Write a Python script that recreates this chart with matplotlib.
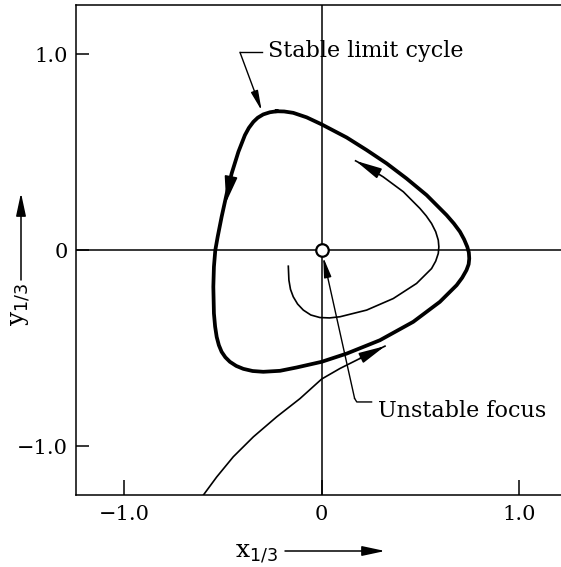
import matplotlib
matplotlib.use("Agg")
import matplotlib.pyplot as plt

plt.rcParams['font.family'] = ['DejaVu Serif']
plt.rcParams['mathtext.fontset'] = 'dejavusans'

# stable limit cycle (closed loop, traversed counter-clockwise)
cycle_x = [-0.228, -0.262, -0.296, -0.324, -0.346, -0.369, -0.389, -0.422, -0.456, -0.481,
           -0.507, -0.527, -0.539, -0.546, -0.549, -0.546, -0.540, -0.532, -0.521, -0.507,
           -0.488, -0.465, -0.433, -0.397, -0.350, -0.296, -0.211, -0.127, 0.0, 0.127,
           0.295, 0.464, 0.599, 0.684, 0.712, 0.734, 0.745, 0.748, 0.746, 0.738,
           0.722, 0.701, 0.670, 0.633, 0.532, 0.430, 0.329, 0.228, 0.127, 0.0,
           -0.076, -0.144, -0.190, -0.228]
cycle_y = [0.709, 0.704, 0.693, 0.676, 0.655, 0.624, 0.587, 0.502, 0.392, 0.289,
           0.170, 0.068, 0.0, -0.085, -0.187, -0.323, -0.390, -0.443, -0.485, -0.519,
           -0.547, -0.570, -0.591, -0.606, -0.617, -0.621, -0.616, -0.599, -0.570, -0.528,
           -0.460, -0.366, -0.264, -0.179, -0.141, -0.102, -0.072, -0.043, -0.012, 0.017,
           0.055, 0.094, 0.136, 0.179, 0.281, 0.366, 0.443, 0.511, 0.575, 0.642,
           0.678, 0.701, 0.708, 0.709]

# trajectory leaving the unstable focus
inner_x = [-0.169, -0.166, -0.158, -0.144, -0.122, -0.093, -0.055, -0.009, 0.040, 0.093,
           0.228, 0.363, 0.481, 0.557, 0.578, 0.591, 0.594, 0.591, 0.578, 0.557,
           0.530, 0.498, 0.414, 0.312, 0.228]
inner_y = [-0.082, -0.153, -0.200, -0.238, -0.275, -0.306, -0.331, -0.344, -0.346, -0.340,
           -0.306, -0.247, -0.170, -0.094, -0.056, -0.017, 0.017, 0.051, 0.094, 0.136,
           0.175, 0.213, 0.298, 0.374, 0.426]
inner_tip = (0.172, 0.456)

# trajectory approaching from outside
outer_x = [-0.600, -0.532, -0.448, -0.346, -0.228, -0.110, 0.0, 0.093, 0.194]
outer_y = [-1.251, -1.158, -1.055, -0.953, -0.851, -0.758, -0.658, -0.604, -0.553]
outer_tip = (0.321, -0.490)

# direction arrow on the limit cycle
cycle_arrow_from = (-0.456, 0.392)
cycle_arrow_tip = (-0.484, 0.245)

tick_vals = [-1.0, 0.0, 1.0]
tick_text = ['\u22121.0', '0', '1.0']

fig = plt.figure(figsize=(5.61, 5.67), dpi=100)
ax = fig.add_axes([76 / 561, 72 / 567, 485 / 561, 489.7 / 567])
ax.set_xlim(-1.245, 1.213)
ax.set_ylim(-1.25, 1.25)

ax.spines['right'].set_visible(False)
for s in ['top', 'left', 'bottom']:
    ax.spines[s].set_linewidth(1.1)

ax.axhline(0, color='k', lw=1.1, zorder=1)
ax.axvline(0, color='k', lw=1.1, zorder=1)

ax.set_xticks(tick_vals)
ax.set_xticklabels(tick_text)
ax.set_yticks(tick_vals)
ax.set_yticklabels(tick_text)
ax.tick_params(direction='in', width=1.1, labelsize=15, top=False, right=False)
ax.tick_params(axis='x', length=11, pad=7)
ax.tick_params(axis='y', length=9.5, pad=6)

ax.plot(cycle_x, cycle_y, color='k', lw=2.7, solid_joinstyle='round', zorder=3)
ax.plot(inner_x + [inner_tip[0]], inner_y + [inner_tip[1]], color='k', lw=1.2,
        solid_joinstyle='round', zorder=3)
ax.plot(outer_x + [outer_tip[0]], outer_y + [outer_tip[1]], color='k', lw=1.2,
        solid_joinstyle='round', zorder=2)

head = dict(color='k', lw=1.2, shrinkA=0, shrinkB=0, mutation_scale=10)
ax.annotate('', xy=inner_tip, xytext=(inner_x[-1], inner_y[-1]),
            arrowprops=dict(arrowstyle='-|>,head_length=1.6,head_width=0.33', **head))
ax.annotate('', xy=outer_tip, xytext=(outer_x[-1], outer_y[-1]),
            arrowprops=dict(arrowstyle='-|>,head_length=1.6,head_width=0.33', **head))
ax.annotate('', xy=cycle_arrow_tip, xytext=cycle_arrow_from,
            arrowprops=dict(arrowstyle='-|>,head_length=1.6,head_width=0.4', **head))

# open circle at the unstable focus
ax.plot(0, 0, 'o', ms=9, mfc='white', mec='k', mew=1.6, zorder=6)

# leader for the limit cycle label
ax.plot([-0.302, -0.414], [1.01, 1.01], color='k', lw=1.0)
ax.annotate('', xy=(-0.304, 0.712), xytext=(-0.414, 1.01),
            arrowprops=dict(arrowstyle='-|>,head_length=1.2,head_width=0.22',
                            color='k', lw=1.0, shrinkA=0, shrinkB=0, mutation_scale=10))
ax.text(-0.272, 0.987, 'Stable limit cycle', fontsize=16, ha='left', va='baseline')

# leader for the focus label
ax.plot([0.253, 0.178, 0.167], [-0.775, -0.775, -0.757], color='k', lw=1.0)
ax.annotate('', xy=(0.008, -0.036), xytext=(0.167, -0.757),
            arrowprops=dict(arrowstyle='-|>,head_length=1.2,head_width=0.22',
                            color='k', lw=1.0, shrinkA=0, shrinkB=0, mutation_scale=10))
ax.text(0.285, -0.851, 'Unstable focus', fontsize=16, ha='left', va='baseline')

# axis labels with direction arrows
fig.text(235 / 561, 1 - 557 / 567, 'x$_{1/3}$', fontsize=18, ha='left', va='baseline')
ax.annotate('', xy=(385, 16), xytext=(285, 16), xycoords='figure pixels',
            textcoords='figure pixels', annotation_clip=False,
            arrowprops=dict(arrowstyle='-|>,head_length=1.4,head_width=0.3',
                            color='k', lw=1.1, shrinkA=0, shrinkB=0, mutation_scale=10))
fig.text(21 / 561, 1 - 283 / 567, 'y$_{1/3}$', fontsize=18, rotation=90,
         ha='center', va='top')
ax.annotate('', xy=(21, 374), xytext=(21, 287), xycoords='figure pixels',
            textcoords='figure pixels', annotation_clip=False,
            arrowprops=dict(arrowstyle='-|>,head_length=1.4,head_width=0.3',
                            color='k', lw=1.1, shrinkA=0, shrinkB=0, mutation_scale=10))

fig.savefig('out.png', dpi=100)
